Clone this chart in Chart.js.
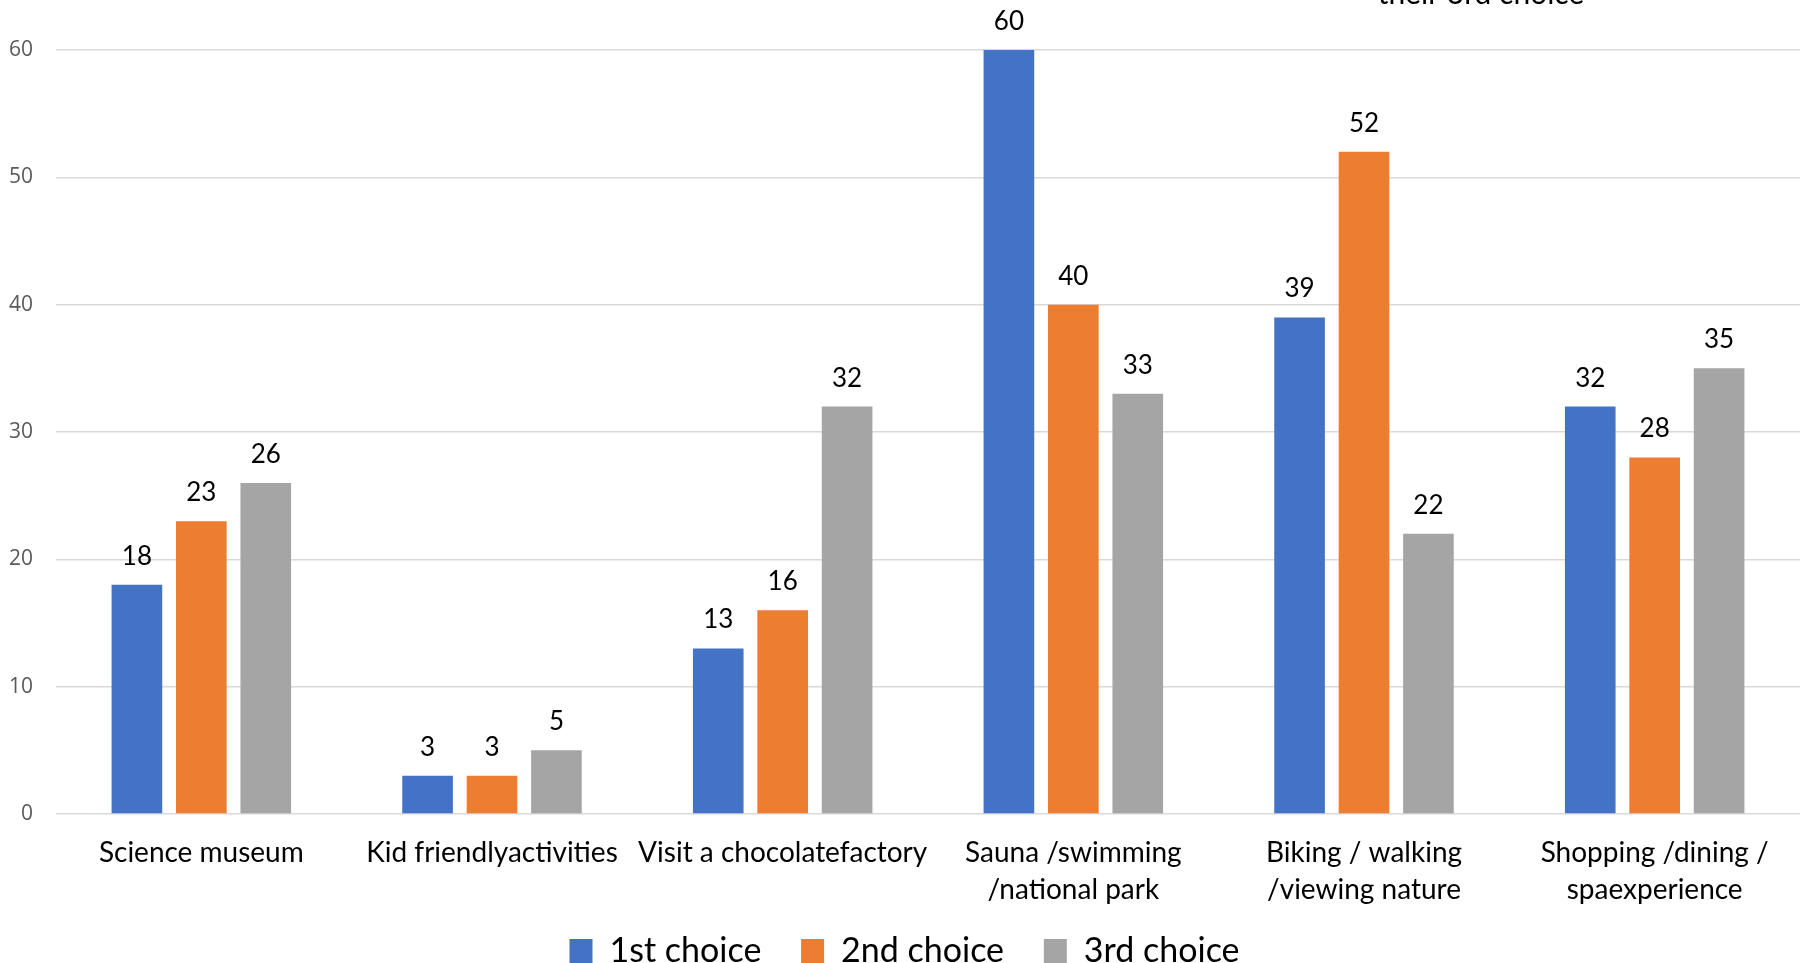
<!DOCTYPE html>
<html>
<head>
<meta charset="utf-8">
<script src="https://cdn.jsdelivr.net/npm/chart.js"></script>
<style>
  html, body { margin: 0; padding: 0; background: #fff; overflow: hidden; }
  #wrap { position: relative; width: 1802px; height: 963px; }
</style>
</head>
<body>
<div id="wrap"><canvas id="canvas"></canvas></div>
<script>
var categories = [
  'Science museum',
  'Kid friendlyactivities',
  'Visit a chocolatefactory',
  ['Sauna /swimming', '/national park'],
  ['Biking / walking', '/viewing nature'],
  ['Shopping /dining /', 'spaexperience']
];
var firstChoice = [18, 3, 13, 60, 39, 32];
var secondChoice = [23, 3, 16, 40, 52, 28];
var thirdChoice = [26, 5, 32, 33, 22, 35];
var seriesNames = ['1st choice', '2nd choice', '3rd choice'];
var yTicks = [0, 10, 20, 30, 40, 50, 60];

// value labels above each bar
var barLabels = {
  id: 'barLabels',
  afterDatasetsDraw: function (chart) {
    var ctx = chart.ctx;
    ctx.save();
    ctx.font = '26px Lato';
    ctx.fillStyle = '#000';
    ctx.textAlign = 'center';
    ctx.textBaseline = 'alphabetic';
    chart.data.datasets.forEach(function (ds, i) {
      chart.getDatasetMeta(i).data.forEach(function (bar, j) {
        ctx.fillText(ds.data[j], bar.x, bar.y - 20);
      });
    });
    ctx.restore();
  }
};

// leftover text cut off at the top of the slide
var topNote = {
  id: 'topNote',
  afterDraw: function (chart) {
    var ctx = chart.ctx;
    ctx.save();
    ctx.font = '30px Lato';
    ctx.fillStyle = '#000';
    ctx.textAlign = 'center';
    ctx.textBaseline = 'alphabetic';
    ctx.fillText('their 3rd choice', 1481, 4);
    ctx.restore();
  }
};

var ctx = document.getElementById('canvas').getContext('2d');

var myChart = new Chart(ctx, {
  type: 'bar',
  data: {
    labels: categories,
    datasets: [
      { label: seriesNames[0], data: firstChoice, backgroundColor: '#4472C4' },
      { label: seriesNames[1], data: secondChoice, backgroundColor: '#ED7D31' },
      { label: seriesNames[2], data: thirdChoice, backgroundColor: '#A5A5A5' }
    ]
  },
  plugins: [barLabels, topNote],
  options: {
    responsive: true,
    maintainAspectRatio: false,
    animation: false,
    categoryPercentage: 0.665,
    barPercentage: 0.786,
    layout: {
      padding: { top: 50, left: 9, right: 2, bottom: -15 }
    },
    plugins: {
      tooltip: { enabled: false },
      legend: {
        position: 'bottom',
        labels: {
          color: '#000',
          font: { family: 'Lato', size: 34 },
          boxWidth: 23,
          boxHeight: 24,
          padding: 10,
          generateLabels: function (chart) {
            var items = Chart.defaults.plugins.legend.labels.generateLabels(chart);
            items.forEach(function (item, i) {
              if (i < items.length - 1) item.text += '\u2003\u2009';
            });
            return items;
          }
        }
      }
    },
    scales: {
      x: {
        grid: { display: false, drawTicks: false },
        border: { display: false },
        afterFit: function (axis) { axis.height = 110; },
        ticks: {
          color: '#000',
          padding: 21,
          maxRotation: 0,
          autoSkip: false,
          font: { family: 'Lato', size: 28, lineHeight: 1.3 }
        }
      },
      y: {
        min: 0,
        max: 60,
        afterBuildTicks: function (axis) {
          axis.ticks = yTicks.map(function (v) { return { value: v }; });
        },
        afterFit: function (axis) { axis.width = 47; },
        grid: { color: '#D9D9D9', lineWidth: 1.5, drawTicks: false },
        border: { display: false },
        ticks: {
          color: '#595959',
          padding: 23,
          font: { family: 'Open Sans', size: 21 }
        }
      }
    }
  }
});
</script>
</body>
</html>
